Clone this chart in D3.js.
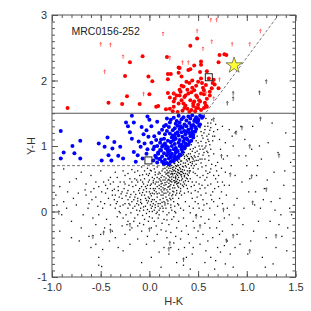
<!DOCTYPE html>
<html>
<head>
<meta charset="utf-8">
<script src="https://d3js.org/d3.v7.min.js"></script>
<style>
  body { margin: 0; background: #fff; }
  svg { display: block; font-family: "Liberation Sans", Arial, sans-serif; }
  .tick text { fill: #333; font-size: 11px; }
  .domain { display: none; }
</style>
</head>
<body>
<svg id="chart" width="311" height="311"></svg>
<script>
'use strict';

// field name and limits of the cuts
var fieldName = 'MRC0156-252';
var xTicks = [-1.0, -0.5, 0.0, 0.5, 1.0, 1.5];
var yTicks = [-1, 0, 1, 2, 3];

// cuts: solid Y-H = 1.5, dashed Y-H = 0.7 and dashed diagonal
var cutSolid = [[-1.0, 1.5], [1.5, 1.5]];
var cutLow = [[-1.0, 0.7], [0.18, 0.7]];
var cutDiag = [[0.55, 1.45], [1.325, 3.0]];

// red: Y-H > 1.5 selection
var redPoints = [
  [-0.84,1.58],[-0.42,1.66],[-0.28,1.64],[-0.23,1.76],[-0.25,2.07],[-0.20,2.28],[-0.07,2.37],[-0.01,2.06],
  [0.03,1.99],[0.00,1.79],[-0.10,1.64],[0.07,1.60],[0.09,1.61],[0.18,2.36],[0.19,2.10],[0.22,2.10],
  [0.19,2.02],[0.19,1.81],[0.21,1.74],[0.17,1.56],[0.25,1.68],[0.30,2.20],[0.30,2.12],[0.33,1.92],
  [0.32,1.83],[0.28,1.77],[0.33,1.70],[0.36,1.58],[0.37,1.77],[0.39,1.86],[0.41,1.96],[0.40,2.16],
  [0.42,2.17],[0.42,2.53],[0.49,2.64],[0.46,2.23],[0.52,2.13],[0.53,2.29],[0.53,2.24],[0.54,1.96],
  [0.46,1.85],[0.49,1.75],[0.52,1.68],[0.45,1.65],[0.50,1.58],[0.55,1.89],[0.56,1.79],[0.58,1.62],
  [0.59,2.14],[0.61,2.03],[0.65,1.96],[0.64,1.88],[0.62,1.77],[0.59,1.72],[0.72,2.39],[0.71,2.28],
  [0.71,1.88],[0.77,2.40],[0.79,2.39],[0.31,2.19],[0.33,2.06],[0.38,1.98],[0.44,2.00],[0.50,1.98],
  [0.53,2.03],[0.66,2.01],[0.67,1.94],[0.35,1.91],[0.31,1.86],[0.25,1.80],[0.26,1.72],[0.31,1.77],
  [0.36,1.75],[0.40,1.80],[0.43,1.82],[0.48,1.77],[0.53,1.80],[0.56,1.85],[0.62,1.83],[0.51,1.70],
  [0.46,1.68],[0.42,1.70],[0.35,1.65],[0.30,1.65],[0.25,1.60],[0.21,1.57],[0.39,1.57],[0.43,1.55],
  [0.48,1.58],[0.53,1.55],[0.56,1.58],[0.59,1.60],[0.45,1.61],[0.50,1.63],[0.29,1.52],[0.24,1.53],
  [0.34,1.54],[0.41,1.52],[0.47,1.53],[0.57,1.66],[0.44,1.89],[0.48,1.92],[0.58,1.93],[0.37,1.62]
];

// blue: 0.7 < Y-H < 1.5 selection
var bluePoints = [
  [-0.91,1.23],[-0.88,0.90],[-0.91,0.81],[-0.79,1.00],[-0.77,0.89],[-0.71,1.08],[-0.71,0.81],[-0.52,1.04],
  [-0.49,0.78],[-0.46,0.99],[-0.43,1.13],[-0.42,0.86],[-0.39,0.78],[-0.38,0.96],[-0.36,1.06],[-0.32,0.85],
  [-0.30,0.99],[-0.27,0.81],[-0.24,1.36],[-0.22,1.30],[-0.18,1.46],[-0.20,1.21],[-0.18,1.11],[-0.16,0.91],
  [-0.14,0.76],[-0.12,0.86],[-0.09,0.99],[-0.16,1.36],[-0.08,1.29],[-0.02,1.45],[0.00,1.40],[-0.03,1.24],
  [-0.01,1.14],[-0.05,1.04],[-0.03,0.88],[-0.07,0.81],[0.05,0.99],[0.07,1.09],[0.09,0.88],[0.11,0.80],
  [0.13,0.99],[0.15,1.11],[0.17,1.32],[0.18,1.42],[0.21,1.36],[0.21,1.19],[0.22,1.06],[0.19,0.94],
  [0.15,0.74],[0.22,0.84],[0.26,1.27],[0.26,1.14],
  [0.40,1.45],[0.44,1.47],[0.48,1.44],[0.52,1.46],[0.30,1.46],[0.25,1.43],
  [0.22,1.40],[0.33,1.41],[0.38,1.39],[0.42,1.42],[0.46,1.38],[0.50,1.41],[0.54,1.43],
  [0.27,1.34],[0.31,1.36],[0.36,1.33],[0.41,1.35],[0.45,1.32],[0.49,1.36],[0.52,1.33],
  [0.20,1.29],[0.29,1.31],[0.34,1.28],[0.38,1.30],[0.43,1.27],[0.47,1.29],[0.51,1.31],
  [0.24,1.24],[0.31,1.26],[0.36,1.23],[0.40,1.25],[0.44,1.22],[0.48,1.26],
  [0.10,1.20],[0.27,1.19],[0.33,1.21],[0.37,1.18],[0.41,1.20],[0.45,1.17],[0.47,1.22],
  [0.05,1.15],[0.23,1.13],[0.30,1.16],[0.34,1.14],[0.38,1.12],[0.42,1.15],[0.45,1.13],
  [0.12,1.10],[0.19,1.08],[0.27,1.11],[0.31,1.09],[0.35,1.07],[0.39,1.10],[0.43,1.08],
  [0.02,1.05],[0.16,1.04],[0.22,1.06],[0.26,1.03],[0.30,1.05],[0.33,1.02],[0.37,1.04],[0.41,1.06],
  [0.08,1.00],[0.14,1.01],[0.19,0.98],[0.23,1.00],[0.27,0.97],[0.31,1.00],[0.35,0.99],[0.38,1.01],
  [0.04,0.95],[0.11,0.94],[0.17,0.96],[0.21,0.93],[0.25,0.95],[0.29,0.92],[0.33,0.95],[0.36,0.96],
  [0.09,0.90],[0.15,0.89],[0.19,0.91],[0.23,0.88],[0.27,0.90],[0.31,0.87],[0.34,0.91],
  [0.06,0.85],[0.13,0.84],[0.18,0.86],[0.22,0.83],[0.26,0.85],[0.29,0.82],[0.32,0.86],
  [0.10,0.80],[0.16,0.79],[0.20,0.81],[0.24,0.78],[0.28,0.80],
  [0.08,0.75],[0.13,0.76],[0.18,0.74],[0.22,0.76],[0.25,0.77],[0.15,0.72],[0.20,0.72],
  [-0.06,1.18],[-0.11,1.07],[0.02,1.30],[0.08,1.37],[0.13,1.25],[0.04,0.78],[-0.02,0.95],[0.16,1.18],
  [0.35,1.44],[0.28,1.38],[0.47,1.41],[0.43,1.31],[0.32,1.30],[0.39,1.22],[0.29,1.21],[0.25,1.09],
  [0.36,1.11],[0.40,1.02],[0.28,0.94],[0.20,0.88],[0.30,0.84],[0.17,1.00],[0.11,1.05],[0.24,1.16],
  [0.18,1.23],[0.15,1.30],[0.12,0.93],[0.07,0.82],[0.26,0.81],[0.34,0.98],[0.43,1.18],[0.50,1.38],[0.55,1.45]
];

// black: all other sources
var blackPoints = [
  [0.21,0.62],[0.24,0.58],[0.27,0.66],[0.30,0.52],[0.23,0.49],[0.26,0.44],[0.29,0.71],[0.32,0.61],[0.19,0.55],[0.22,0.41],
  [0.25,0.68],[0.28,0.57],[0.31,0.47],[0.34,0.69],[0.20,0.66],[0.17,0.51],[0.24,0.36],[0.27,0.50],[0.33,0.56],[0.36,0.63],
  [0.18,0.45],[0.21,0.52],[0.29,0.39],[0.35,0.74],[0.38,0.68],[0.16,0.60],[0.26,0.73],[0.30,0.63],[0.23,0.70],[0.32,0.42],
  [0.19,0.37],[0.28,0.46],[0.37,0.58],[0.22,0.57],[0.25,0.52],[0.31,0.67],[0.34,0.50],[0.14,0.48],[0.27,0.61],[0.20,0.43],
  [0.33,0.77],[0.40,0.72],[0.24,0.64],[0.29,0.55],[0.36,0.53],[0.15,0.40],[0.18,0.63],[0.21,0.34],[0.26,0.58],[0.30,0.44],
  [0.38,0.79],[0.42,0.75],[0.17,0.57],[0.23,0.45],[0.28,0.69],[0.32,0.72],[0.35,0.45],[0.39,0.62],[0.25,0.40],[0.13,0.55],
  [0.22,0.66],[0.27,0.54],[0.31,0.58],[0.34,0.64],[0.19,0.48],[0.24,0.31],[0.29,0.49],[0.37,0.70],[0.41,0.66],[0.16,0.44],
  [0.20,0.59],[0.26,0.47],[0.30,0.75],[0.33,0.53],[0.36,0.81],[0.43,0.84],[0.12,0.42],[0.18,0.68],[0.23,0.53],[0.28,0.42],
  [0.32,0.65],[0.35,0.58],[0.40,0.55],[0.21,0.47],[0.25,0.62],[0.29,0.60],
  [0.40,0.88],[0.44,0.92],[0.47,0.98],[0.50,1.05],[0.46,0.85],[0.52,0.95],[0.55,1.12],[0.49,1.15],[0.53,1.22],[0.57,1.30],
  [0.58,1.05],[0.61,1.18],[0.45,0.80],[0.42,0.95],[0.48,1.08],[0.51,0.88],[0.54,1.00],[0.56,1.20],[0.60,1.35],[0.63,1.28],
  [0.59,0.92],[0.62,1.02],[0.39,0.84],[0.43,1.02],[0.47,0.90],[0.50,0.78],[0.55,0.86],[0.57,0.97],[0.60,1.10],[0.64,1.40],
  [0.66,1.22],[0.52,1.28],[0.58,1.42],[0.65,1.08],[0.68,1.33],[0.61,0.85],[0.48,0.72],[0.44,0.76],[0.53,0.74],[0.57,0.80],
  [0.63,0.95],[0.67,1.15],[0.70,1.25],[0.46,1.12],[0.41,0.81],[0.36,0.90],[0.38,0.97],[0.34,0.86],
  [-0.05,0.25],[0.00,0.30],[0.03,0.18],[-0.08,0.12],[0.06,0.35],[-0.02,0.40],[0.08,0.22],[-0.12,0.20],[0.01,0.10],[0.10,0.28],
  [-0.06,0.33],[0.04,0.44],[-0.15,0.08],[0.07,0.15],[-0.10,0.28],[0.02,0.05],[0.12,0.38],[-0.03,0.17],[0.05,0.27],[-0.18,0.15],
  [-0.08,0.38],[0.09,0.45],[-0.13,0.02],[0.11,0.12],[-0.01,0.22],[0.04,0.35],[-0.20,0.22],[0.06,0.06],[-0.07,0.45],[0.13,0.30],
  [-0.04,0.08],[0.00,0.48],[-0.16,0.30],[0.08,0.38],[-0.11,0.10],[0.03,0.28],[-0.22,0.05],[0.14,0.20],[-0.09,0.18],[0.01,0.35],
  [-0.25,0.12],[0.10,0.02],[-0.14,0.40],[0.05,0.50],[-0.02,0.13],[0.07,0.30],[-0.19,-0.02],[0.12,0.25],[-0.06,0.02],[0.02,0.42],
  [-0.28,0.20],[0.15,0.33],[-0.10,0.35],[0.04,0.12],[-0.23,0.28],[0.09,0.08],[-0.03,0.30],[0.00,0.20],[-0.17,0.38],[0.11,0.48],
  [-0.30,0.08],[0.06,0.42],[-0.12,-0.05],[0.16,0.10],[-0.05,0.50],[0.03,0.00],[-0.26,0.35],[0.13,0.43],[-0.08,0.25],[0.01,0.27],
  [-0.21,0.12],[0.08,0.52],[-0.33,0.15],[0.14,0.05],[-0.15,0.22],[0.05,0.18],[-0.01,0.55],[0.10,0.35],[-0.35,0.25],[-0.24,-0.05],
  [0.07,-0.03],[-0.13,0.48],[0.17,0.28],[-0.04,0.38],[0.02,0.15],[-0.09,0.05],
  [0.18,0.18],[0.20,0.25],[0.15,0.15],[0.22,0.10],[0.19,0.30],[0.24,0.20],[0.17,0.05],[0.21,0.28],[0.25,0.15],[0.14,0.25],
  [0.23,0.02],[0.27,0.25],[0.16,0.35],[0.26,0.08],[0.20,0.38],[0.28,0.32],[0.13,0.08],[0.18,-0.05],[0.22,0.18],[0.30,0.20],
  [0.25,0.30],[0.32,0.35],[0.29,0.12],[0.19,0.12],[0.24,0.26],[0.33,0.25],[0.35,0.38],[0.31,0.28],
  [-0.10,0.55],[-0.05,0.62],[0.00,0.58],[0.05,0.65],[0.10,0.60],[-0.15,0.60],[-0.20,0.50],[0.08,0.68],[-0.02,0.66],[0.12,0.52],
  [-0.25,0.55],[-0.30,0.45],[0.02,0.62],[-0.08,0.68],[0.14,0.65],[-0.35,0.60],[-0.40,0.52],[-0.12,0.45],[-0.18,0.64],[0.06,0.56],
  [-0.45,0.40],[-0.50,0.62],[-0.55,0.45],[-0.60,0.55],[-0.70,0.60],[-0.65,0.42],[-0.75,0.50],[-0.82,0.45],[-0.88,0.65],[-0.92,0.38],
  [-0.60,0.30],[-0.55,0.22],[-0.50,0.15],[-0.45,0.28],[-0.40,0.10],[-0.42,0.20],[-0.48,0.05],[-0.52,-0.05],[-0.38,0.32],[-0.35,0.05],
  [-0.33,-0.08],[-0.30,-0.02],[-0.28,0.30],[-0.36,0.18],[-0.44,-0.12],[-0.40,-0.20],[-0.38,-0.30],[-0.46,-0.25],[-0.50,-0.35],[-0.55,-0.20],
  [-0.58,-0.10],[-0.62,0.12],[-0.65,0.25],[-0.68,-0.05],[-0.70,-0.25],[-0.75,0.10],[-0.78,0.20],[-0.80,-0.15],[-0.85,0.05],[-0.88,0.15],
  [-0.90,-0.05],[-0.95,0.10],[-0.92,-0.30],[-0.72,-0.45],[-0.62,-0.38],[-0.55,-0.50],[-0.48,-0.58],[-0.41,-0.45],[-0.35,-0.40],[-0.32,-0.55],
  [-0.28,-0.22],[-0.25,-0.35],[-0.22,-0.15],[-0.20,-0.28],[-0.27,-0.60],[-0.52,-0.82],[-0.49,-0.84],[-0.52,-0.70],[-0.60,-0.55],[-0.80,-0.40],
  [-0.63,0.05],[-0.57,0.35],[-0.52,0.38],[-0.47,0.45],[-0.43,0.35],[-0.40,0.42],[-0.32,0.38],[-0.25,0.42],[-0.22,0.32],[-0.31,0.22],
  [-0.34,0.12],[-0.38,0.25],[-0.46,0.12],[-0.49,0.30],[-0.53,0.08],[-0.59,0.18],[-0.66,0.33],[-0.73,0.28],[-0.84,0.30],[-0.96,0.25],
  [-0.15,-0.10],[-0.10,-0.18],[-0.05,-0.12],[0.00,-0.08],[0.05,-0.15],[0.10,-0.05],[0.15,-0.12],[0.20,-0.20],[0.25,-0.08],[0.30,-0.15],
  [-0.18,-0.25],[-0.08,-0.30],[0.02,-0.25],[0.08,-0.35],[0.12,-0.28],[0.18,-0.40],[0.22,-0.32],[0.28,-0.25],[0.35,-0.10],[0.38,-0.22],
  [0.40,-0.35],[0.45,-0.15],[0.32,-0.42],[0.25,-0.48],[0.15,-0.55],[0.05,-0.45],[-0.03,-0.50],[-0.12,-0.42],[-0.20,-0.50],[0.10,-0.62],
  [0.20,-0.65],[0.30,-0.58],[0.38,-0.70],[0.45,-0.55],[0.48,-0.40],[0.02,-0.70],[-0.08,-0.78],[0.28,-0.78],[0.35,-0.82],[0.42,-0.88],
  [0.12,-0.85],[0.50,-0.30],[0.48,-0.05],[0.42,-0.02],[0.35,0.02],[0.22,-0.55],[-0.02,-0.38],[0.07,-0.22],[0.17,-0.30],[0.27,-0.38],
  [0.38,0.40],[0.42,0.50],[0.45,0.60],[0.48,0.45],[0.50,0.65],[0.52,0.35],[0.55,0.55],[0.58,0.70],[0.60,0.40],[0.62,0.60],
  [0.65,0.30],[0.68,0.50],[0.70,0.75],[0.72,0.20],[0.75,0.45],[0.78,0.60],[0.80,0.85],[0.40,0.30],[0.44,0.20],[0.47,0.32],
  [0.50,0.12],[0.53,0.25],[0.56,0.10],[0.58,0.28],[0.62,0.05],[0.64,0.18],[0.67,-0.05],[0.70,0.08],[0.74,0.30],[0.77,-0.10],
  [0.41,0.62],[0.46,0.70],[0.49,0.55],[0.54,0.68],[0.57,0.48],[0.61,0.78],[0.64,0.72],[0.66,0.88],[0.69,0.62],[0.73,0.95],
  [0.76,0.80],[0.43,0.38],[0.51,0.42],[0.55,0.18],[0.59,0.52],[0.63,0.42],[0.71,0.38],[0.79,0.25],[0.37,0.15],[0.39,0.50],
  [0.44,0.45],[0.47,0.58],[0.52,0.52],[0.54,0.80],[0.58,0.62],[0.60,0.90],[0.36,0.28],[0.41,0.08],[0.45,0.05],[0.49,0.22],
  [0.53,-0.08],[0.57,-0.18],[0.61,-0.12],[0.66,0.15],[0.69,-0.25],[0.72,-0.35],[0.75,0.12],[0.80,0.05],[0.82,0.40],[0.84,0.70],
  [0.86,1.00],[0.88,0.55],[0.90,0.20],[0.92,0.85],[0.85,1.15],[0.78,1.05],[0.72,1.10],[0.75,1.30],[0.82,1.25],[0.88,1.20],
  [0.95,0.45],[1.00,0.70],[1.02,0.30],[1.05,0.95],[1.08,0.10],[1.10,0.55],[1.12,-0.15],[1.15,0.80],[1.18,0.35],[1.20,-0.40],
  [1.22,1.05],[1.25,0.15],[1.28,0.60],[1.30,-0.55],[1.32,0.90],[1.35,-0.05],[1.38,0.40],[1.40,1.20],[1.42,-0.25],[1.45,0.75],
  [0.96,-0.20],[0.98,1.10],[1.04,-0.45],[1.06,1.30],[1.14,0.05],[1.16,-0.70],[1.24,-0.15],[1.26,1.35],[1.34,0.20],[1.44,0.05],
  [0.93,-0.50],[0.97,0.05],[1.01,-0.65],[1.09,0.30],[1.13,1.00],[1.19,-0.85],[1.27,-0.80],[1.36,-0.38],[1.41,-0.60],[0.94,1.30],
  [0.99,0.85],[1.03,0.50],[1.07,-0.30],[1.11,0.70],[1.17,0.18],[1.21,0.48],[1.29,0.02],[1.33,-0.20],[1.39,0.62],[1.46,-0.05],
  [0.55,-0.35],[0.60,-0.45],[0.65,-0.40],[0.70,-0.55],[0.75,-0.30],[0.80,-0.45],[0.85,-0.20],[0.90,-0.35],[0.58,-0.60],[0.63,-0.70],
  [0.68,-0.75],[0.73,-0.62],[0.78,-0.80],[0.83,-0.65],[0.88,-0.55],[0.52,-0.50],[0.62,-0.25],[0.72,-0.15],[0.82,-0.05],[0.87,0.10],
  [0.92,-0.10],[0.57,-0.78],[0.67,-0.88],[0.77,-0.52],[0.86,-0.85],
  [0.22,0.71],[0.26,0.77],[0.31,0.80],[0.28,0.83],[0.35,0.87],[0.24,0.56],[0.19,0.60],[0.27,0.45],[0.33,0.48],[0.30,0.37],
  [0.36,0.42],[0.38,0.51],[0.41,0.59],[0.43,0.70],[0.39,0.77],[0.44,0.82],[0.34,0.60],[0.29,0.64],[0.23,0.61],[0.20,0.49],
  [0.17,0.41],[0.14,0.36],[0.21,0.39],[0.26,0.36],[0.32,0.31],[0.28,0.28],[0.23,0.24],[0.18,0.33],[0.15,0.53],[0.12,0.46],
  [0.10,0.40],[0.11,0.58],[0.16,0.66],[0.13,0.62],[0.19,0.70],[0.24,0.67],[0.30,0.70],[0.37,0.74],[0.41,0.79],[0.35,0.68],
  [0.32,0.56],[0.27,0.52],[0.22,0.46],[0.25,0.47],[0.29,0.43],[0.34,0.40],[0.37,0.47],[0.40,0.46],[0.42,0.62],[0.45,0.66],
  [0.39,0.57],[0.36,0.55],[0.33,0.61],[0.30,0.59],[0.26,0.63],[0.23,0.58],[0.20,0.54],[0.18,0.58],[0.16,0.48],[0.27,0.70],
  [0.32,0.77],[0.29,0.77],[0.25,0.74],[0.21,0.69],[0.36,0.84],[0.40,0.81],[0.46,0.77],[0.44,0.73],[0.42,0.88],[0.38,0.86],
  [0.47,0.83],[0.49,0.92],[0.45,0.96],[0.51,1.00],[0.53,1.07],[0.55,0.95],[0.50,0.84],[0.52,0.80],[0.48,0.78],[0.56,0.90],
  [0.58,1.00],[0.54,1.16],[0.57,1.25],[0.59,1.15],[0.62,1.24],[0.60,1.30],[0.63,1.35],[0.65,1.15],[0.61,1.07],
  [-0.04,0.20],[-0.01,0.16],[0.02,0.24],[0.05,0.32],[0.08,0.27],[0.11,0.18],[0.13,0.14],[0.09,0.12],[0.06,0.10],[0.03,0.08],
  [-0.02,0.03],[-0.06,0.07],[-0.09,0.14],[-0.12,0.16],[-0.14,0.26],[-0.11,0.32],[-0.07,0.29],[-0.03,0.35],[0.01,0.40],[0.04,0.47],
  [0.07,0.45],[0.10,0.50],[0.12,0.33],[0.15,0.28],[0.17,0.22],[0.19,0.16],[0.21,0.20],[0.16,0.13],[0.14,0.00],[0.11,0.05],
  [0.08,-0.01],[0.05,0.02],[0.00,0.00],[-0.03,-0.03],[-0.07,-0.06],[-0.10,0.01],[-0.17,0.05],[-0.20,0.10],[-0.22,0.18],[-0.19,0.26],
  [-0.16,0.18],[-0.13,0.12],[-0.24,0.24],[-0.27,0.10],[-0.29,0.27],[-0.32,0.32],[-0.36,0.34],[-0.26,0.45],[-0.21,0.40],[-0.18,0.45],
  [-0.15,0.50],[-0.09,0.48],[-0.06,0.42],[-0.01,0.45],[0.03,0.52],[0.06,0.60],[0.09,0.57],[0.01,0.63],[-0.03,0.57],[-0.07,0.56],
  [-0.12,0.62],[-0.22,0.58],[-0.27,0.62],[-0.33,0.52],[-0.37,0.45],[-0.42,0.48],[-0.31,0.00],[-0.27,-0.10],[-0.23,-0.20],[-0.16,-0.15],
  [-0.12,-0.22],[-0.06,-0.20],[-0.01,-0.15],[0.03,-0.10],[0.09,-0.10],[0.13,-0.18],[0.18,-0.13],[0.23,-0.12],[0.27,-0.02],[0.32,0.05],
  [0.30,0.10],[0.26,0.00],[0.22,0.06],[0.20,-0.02],
  [0.39,0.35],[0.43,0.28],[0.46,0.40],[0.50,0.30],[0.54,0.40],[0.57,0.36],[0.60,0.58],[0.63,0.65],[0.66,0.55],[0.68,0.70],
  [0.71,0.55],[0.74,0.66],[0.77,0.40],[0.47,0.15],[0.51,0.05],[0.55,0.02],[0.59,0.12],[0.63,0.25],[0.67,0.35],[0.70,0.45],
  [0.46,-0.25],[0.41,-0.48],[0.36,-0.55],[0.33,-0.30],[0.44,-0.65]
];

// upward arrows: lower limits on Y-H
var redArrows = [
  [-0.50,2.55],[-0.40,2.54],[-0.46,2.13],[-0.27,2.36],[0.14,2.71],[0.49,2.75],[0.63,2.92],[0.69,2.92],
  [1.14,2.75],[0.64,2.59],[0.85,2.55],[1.03,2.55],[0.21,2.34],[0.40,2.27],[-0.06,1.79],[0.25,1.80],
  [0.55,2.48],[0.72,2.01],[0.58,1.80],[0.66,1.72],[0.34,2.27]
];
var blackArrows = [
  [0.86,1.80],[0.86,1.72],[1.13,1.81],[1.20,1.98],[0.80,1.65],[1.14,1.41],[0.89,1.20],[0.95,1.27],
  [1.03,0.99],[1.33,0.85],[0.74,0.84],[0.83,0.56],[1.05,0.53],[1.20,0.33],[1.06,0.13],[0.76,0.02],
  [0.48,-0.08],[0.52,-0.23],[1.30,-0.38],[0.86,-0.38],[0.79,-0.45],[1.03,-0.61],[0.35,-0.74],[0.21,-0.49],
  [0.20,-0.58],[-0.93,-0.02],[-0.58,-0.39],[-0.47,-0.33],[-0.40,-0.30],[-0.20,-0.21],[0.00,-0.28],[0.66,1.40]
];

// marked objects
var boxes = [[0.61,2.05],[-0.01,0.78]];
var star = [0.87,2.23];

var margin = { top: 15, right: 15.5, bottom: 34, left: 52 };
var svg = d3.select('#chart');
var width = +svg.attr('width') - margin.left - margin.right;
var height = +svg.attr('height') - margin.top - margin.bottom;

var x = d3.scaleLinear().domain([-1, 1.5]).range([0, width]);
var y = d3.scaleLinear().domain([-1, 3]).range([height, 0]);

var g = svg.append('g')
    .attr('transform', 'translate(' + margin.left + ',' + margin.top + ')');

var hyphen = function(f) {
    return function(d) { return f(d).replace('\u2212', '-'); };
};

// black sources
g.append('g').selectAll('rect')
    .data(blackPoints)
    .enter().append('rect')
    .attr('x', function(d) { return x(d[0]) - 0.65; })
    .attr('y', function(d) { return y(d[1]) - 0.65; })
    .attr('width', 1.3)
    .attr('height', 1.3)
    .style('fill', '#111');

var arrowPath = function(d) {
    var px = x(d[0]), py = y(d[1]);
    return 'M' + px + ',' + (py + 2) + 'V' + (py - 2) +
        'M' + (px - 1.2) + ',' + (py - 0.9) + 'L' + px + ',' + (py - 2) + 'L' + (px + 1.2) + ',' + (py - 0.9);
};

g.append('g').selectAll('path')
    .data(blackArrows)
    .enter().append('path')
    .attr('d', arrowPath)
    .style('fill', 'none')
    .style('stroke', '#222')
    .style('stroke-width', 0.7);

g.append('g').selectAll('circle')
    .data(bluePoints)
    .enter().append('circle')
    .attr('cx', function(d) { return x(d[0]); })
    .attr('cy', function(d) { return y(d[1]); })
    .attr('r', 2)
    .style('fill', '#0000ff');

g.append('g').selectAll('circle')
    .data(redPoints)
    .enter().append('circle')
    .attr('cx', function(d) { return x(d[0]); })
    .attr('cy', function(d) { return y(d[1]); })
    .attr('r', 2)
    .style('fill', '#ff0000');

g.append('g').selectAll('path')
    .data(redArrows)
    .enter().append('path')
    .attr('d', arrowPath)
    .style('fill', 'none')
    .style('stroke', '#ff3333')
    .style('stroke-width', 0.7);

// selection cuts
var line = d3.line()
    .x(function(d) { return x(d[0]); })
    .y(function(d) { return y(d[1]); });

g.append('path').attr('d', line(cutSolid))
    .style('stroke', '#555').style('stroke-width', 1).style('fill', 'none');
g.append('path').attr('d', line(cutLow))
    .style('stroke', '#555').style('stroke-width', 0.8).style('stroke-dasharray', '3,2').style('fill', 'none');
g.append('path').attr('d', line(cutDiag))
    .style('stroke', '#555').style('stroke-width', 0.8).style('stroke-dasharray', '3,2').style('fill', 'none');

g.append('g').selectAll('rect')
    .data(boxes)
    .enter().append('rect')
    .attr('x', function(d) { return x(d[0]) - 3.5; })
    .attr('y', function(d) { return y(d[1]) - 3.5; })
    .attr('width', 7)
    .attr('height', 7)
    .style('fill', 'none')
    .style('stroke', '#222')
    .style('stroke-width', 1);

g.append('path')
    .attr('d', d3.symbol().type(d3.symbolStar).size(80)())
    .attr('transform', 'translate(' + x(star[0]) + ',' + y(star[1]) + ')')
    .style('fill', '#ffff33')
    .style('stroke', '#333')
    .style('stroke-width', 0.6);

// frame and ticks
g.append('rect')
    .attr('width', width)
    .attr('height', height)
    .style('fill', 'none')
    .style('stroke', '#555')
    .style('stroke-width', 1);

var xMinor = d3.range(-10, 16).map(function(i) { return i / 10; });
var yMinor = d3.range(-10, 31).map(function(i) { return i / 10; });

var addAxis = function(axis, transform) {
    var a = g.append('g').attr('transform', transform || null).call(axis);
    a.selectAll('line').style('stroke', '#555');
    return a;
};

addAxis(d3.axisBottom(x).tickValues(xMinor).tickSize(-3).tickFormat(''), 'translate(0,' + height + ')');
addAxis(d3.axisTop(x).tickValues(xMinor).tickSize(-3).tickFormat(''));
addAxis(d3.axisLeft(y).tickValues(yMinor).tickSize(-3).tickFormat(''));
addAxis(d3.axisRight(y).tickValues(yMinor).tickSize(-3).tickFormat(''), 'translate(' + width + ',0)');

addAxis(d3.axisBottom(x).tickValues(xTicks).tickSize(-6).tickPadding(6).tickFormat(hyphen(d3.format('.1f'))), 'translate(0,' + height + ')');
addAxis(d3.axisTop(x).tickValues(xTicks).tickSize(-6).tickFormat(''));
addAxis(d3.axisLeft(y).tickValues(yTicks).tickSize(-6).tickPadding(5).tickFormat(hyphen(d3.format('d'))));
addAxis(d3.axisRight(y).tickValues(yTicks).tickSize(-6).tickFormat(''), 'translate(' + width + ',0)');

g.selectAll('.tick text').style('font-family', '"Liberation Sans", Arial, sans-serif');

// labels
g.append('text')
    .attr('x', x(-0.8))
    .attr('y', y(2.7))
    .style('font-size', '10.5px')
    .style('fill', '#222')
    .text(fieldName);

svg.append('text')
    .attr('x', margin.left + width / 2)
    .attr('y', 305)
    .attr('text-anchor', 'middle')
    .style('font-size', '11px')
    .style('fill', '#333')
    .text('H-K');

svg.append('text')
    .attr('transform', 'translate(35,' + (margin.top + height / 2) + ') rotate(-90)')
    .attr('text-anchor', 'middle')
    .style('font-size', '11px')
    .style('fill', '#333')
    .text('Y-H');
</script>
</body>
</html>
